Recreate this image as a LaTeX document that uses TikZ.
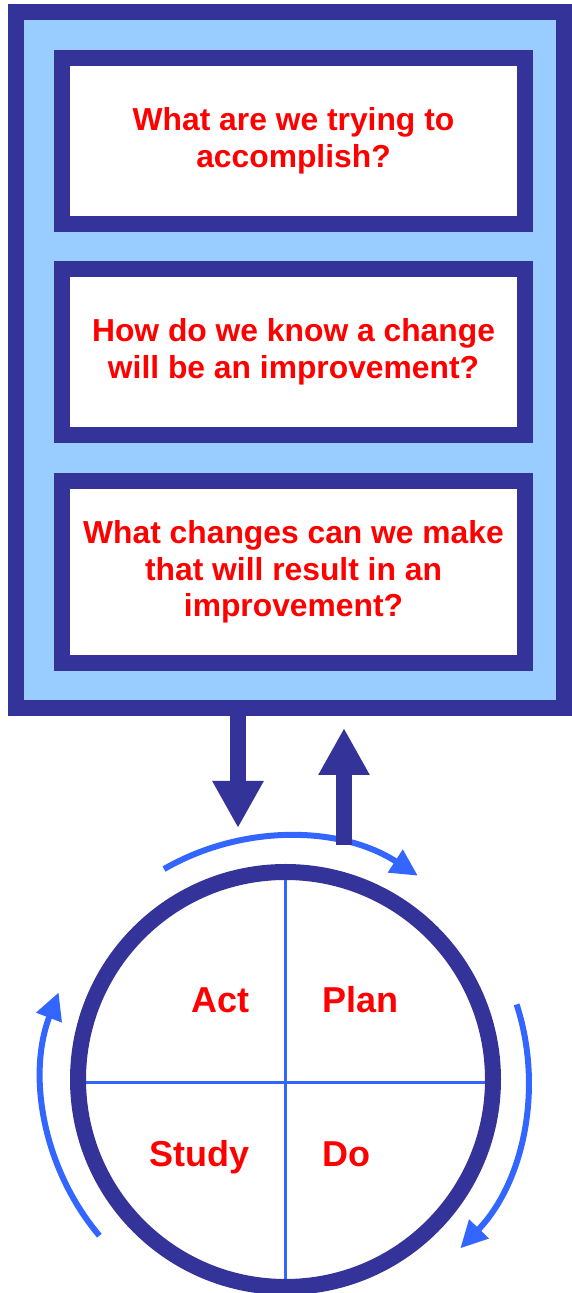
\documentclass[tikz,border=0pt]{standalone}
\usepackage{fontspec}
\setmainfont{Liberation Sans}
\usepackage{tikz}
\usepackage{xcolor}
\usetikzlibrary{arrows.meta,positioning}

\definecolor{framedark}{RGB}{51,51,153}
\definecolor{framelight}{RGB}{153,204,255}
\definecolor{cycleblue}{RGB}{51,102,255}

\tikzset{
  question/.style={draw=framedark, fill=white, line width=16pt, text=red,
    font=\fontsize{31.8pt}{36.5pt}\selectfont\bfseries, align=center,
    minimum width=463pt, inner sep=0pt},
  bigarrow/.style={framedark, line width=16pt,
    -{Triangle[width=48pt,length=47pt]}},
  cyclearrow/.style={cycleblue, line width=6pt,
    -{Triangle[width=26pt,length=27pt]}},
  crossline/.style={cycleblue, line width=3pt, shorten <=16pt, shorten >=16pt},
  phase/.style={text=red, font=\fontsize{36pt}{40pt}\selectfont\bfseries,
    inner sep=0pt}
}

\begin{document}
\begin{tikzpicture}[x=1pt, y=1pt]
    \useasboundingbox (0,0) rectangle (572,1293);

    % Draw the outer frame
    \node[draw=framedark, fill=framelight, line width=16pt,
      minimum width=548pt, minimum height=696pt] (frame) at (290,933) {};

    % The three questions
    \node[question, minimum height=166pt] (aim) at (293.5,1152)
      {What are we trying to\\accomplish?};
    \node[question, minimum height=166pt] (measure) at (293.5,941)
      {How do we know a change\\will be an improvement?};
    \node[question, minimum height=182pt] (change) at (293.5,721)
      {What changes can we make\\that will result in an\\improvement?};

    % The PDSA circle
    \node[circle, draw=framedark, line width=16pt, minimum size=415pt,
      inner sep=0pt] (cycle) at (285.5,213.5) {};
    \draw[crossline] (cycle.north) -- (cycle.south);
    \draw[crossline] ([yshift=-3.5pt]cycle.west) -- ([yshift=-3.5pt]cycle.east);

    % Phase labels
    \node[phase, anchor=base east] (act) at ([shift={(-36pt,66.5pt)}]cycle.center) {Act};
    \node[phase, anchor=base west] (plan) at ([shift={(36.5pt,66.5pt)}]cycle.center) {Plan};
    \node[phase, anchor=base east] (study) at ([shift={(-35.5pt,-87.5pt)}]cycle.center) {Study};
    \node[phase, anchor=base west] (do) at ([shift={(36.5pt,-87.5pt)}]cycle.center) {Do};

    % Arrows going round the circle
    \foreach \a/\b in {120/57, 18/-44, 220/159}
        \draw[cyclearrow] ([shift={(\a:243pt)}]cycle.center)
          arc[start angle=\a, end angle=\b, radius=243pt];

    % Arrows between the questions and the cycle
    \coordinate (downtip) at (238,465);
    \coordinate (upbase) at (344,448);
    \coordinate (uptip) at (344,565);
    \draw[bigarrow] (frame.south -| downtip) -- (downtip);
    \draw[bigarrow] (upbase) -- (uptip);
\end{tikzpicture}
\end{document}
